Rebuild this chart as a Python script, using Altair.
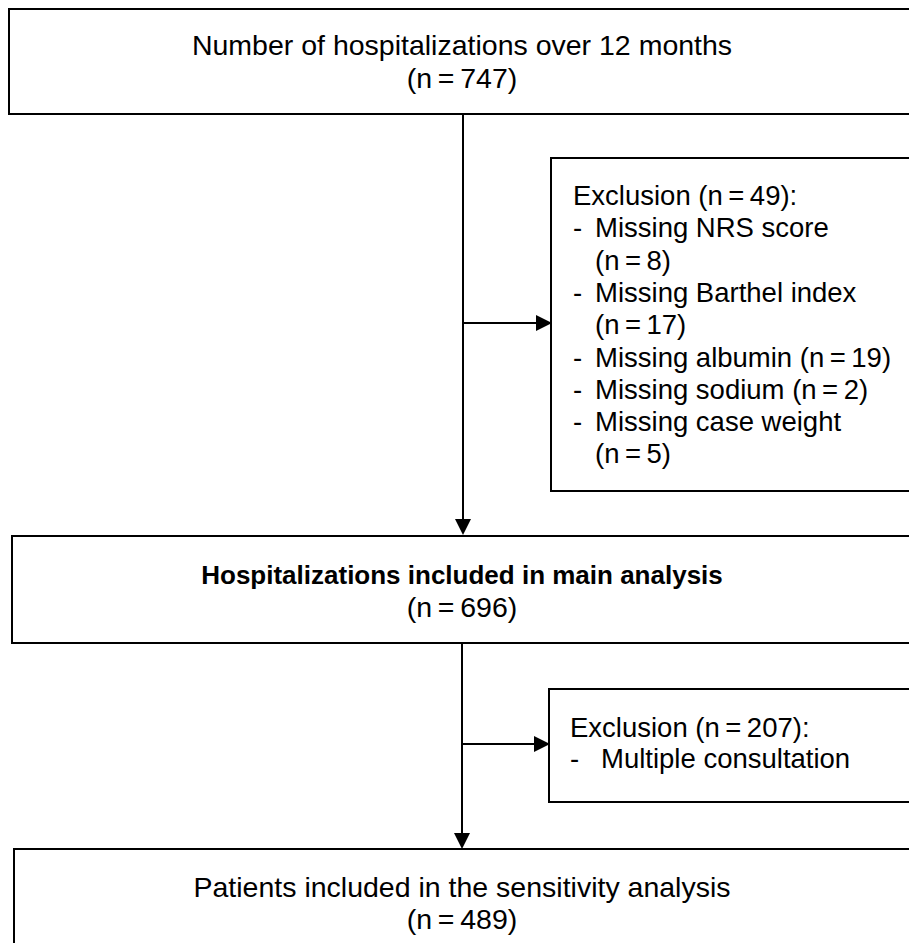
import altair as alt
import pandas as pd

# ---------------- data (content of the flow diagram) ----------------
main_titles = [
    "Number of hospitalizations over 12 months",
    "Hospitalizations included in main analysis",
    "Patients included in the sensitivity analysis",
]
main_counts = [747, 696, 489]
main_bold = [False, True, False]

excl1_total = 49
excl1_reasons = ["Missing NRS score", "Missing Barthel index", "Missing albumin",
                 "Missing sodium", "Missing case weight"]
excl1_counts = [8, 17, 19, 2, 5]
excl1_wrap = [True, True, False, False, True]

excl2_total = 207
excl2_reasons = ["Multiple consultation"]

NS = "\u2009"


def n_label(v):
    return f"(n{NS}={NS}{v})"


# ---------------- layout (page pixel coordinates) ----------------
W, H = 901, 935
XD = [8, 8 + W]
YD = [8, 8 + H]
FONT = "Liberation Sans"

main_boxes = [(9, 9, 990, 114), (12, 536, 990, 643), (14, 849, 990, 1010)]
excl_boxes = [(551, 158, 990, 491), (549, 689, 916, 802)]
main_baselines = [(55, 88), (584, 617), (897, 929)]
main_cx = 462

boxes = pd.DataFrame(
    [dict(x=b[0], y=b[1], x2=b[2], y2=b[3]) for b in main_boxes + excl_boxes]
)

lines = pd.DataFrame([
    dict(x=463, y=114, x2=463, y2=530),
    dict(x=463, y=323, x2=548, y2=323),
    dict(x=462, y=643, x2=462, y2=840),
    dict(x=462, y=744, x2=546, y2=744),
])

arrows_down = pd.DataFrame([dict(x=463, y=535), dict(x=462, y=849)])
arrows_right = pd.DataFrame([dict(x=552, y=323), dict(x=550, y=744)])

# main box texts
mt_rows, mt_bold_rows = [], []
for title, cnt, bold, (b1, b2) in zip(main_titles, main_counts, main_bold, main_baselines):
    (mt_bold_rows if bold else mt_rows).append(dict(x=main_cx, y=b1, t=title))
    mt_rows.append(dict(x=main_cx, y=b2, t=n_label(cnt)))

# exclusion texts
ex_rows = []
y0, dy = 205, 32.3
i = 0
ex_rows.append(dict(x=573, y=y0, t=f"Exclusion {n_label(excl1_total)}:"))
i += 1
for reason, cnt, wrap in zip(excl1_reasons, excl1_counts, excl1_wrap):
    ex_rows.append(dict(x=573, y=y0 + i * dy, t="-"))
    if wrap:
        ex_rows.append(dict(x=595, y=y0 + i * dy, t=reason))
        i += 1
        ex_rows.append(dict(x=595, y=y0 + i * dy, t=n_label(cnt)))
    else:
        ex_rows.append(dict(x=595, y=y0 + i * dy, t=f"{reason} {n_label(cnt)}"))
    i += 1

ex_rows.append(dict(x=570, y=737, t=f"Exclusion {n_label(excl2_total)}:"))
for k, reason in enumerate(excl2_reasons):
    ex_rows.append(dict(x=570, y=768 + k * 31, t="-"))
    ex_rows.append(dict(x=601, y=768 + k * 31, t=reason))

xs = alt.Scale(domain=XD, range=[0, W])
ys = alt.Scale(domain=YD, range=[0, H])
X = lambda f="x": alt.X(f"{f}:Q", scale=xs, axis=None)
Y = lambda f="y": alt.Y(f"{f}:Q", scale=ys, axis=None)

rects = alt.Chart(boxes).mark_rect(
    fill="white", fillOpacity=0, stroke="black", strokeWidth=2
).encode(x=X(), x2="x2:Q", y=Y(), y2="y2:Q")

rules = alt.Chart(lines).mark_rule(color="black", strokeWidth=2).encode(
    x=X(), x2="x2:Q", y=Y(), y2="y2:Q"
)

down = alt.Chart(arrows_down).mark_point(
    shape="M-1,-2L1,-2L0,0Z", size=256, filled=True, color="black", opacity=1
).encode(x=X(), y=Y())

right = alt.Chart(arrows_right).mark_point(
    shape="M-2,-1L0,0L-2,1Z", size=256, filled=True, color="black", opacity=1
).encode(x=X(), y=Y())

main_text = alt.Chart(pd.DataFrame(mt_rows)).mark_text(
    font=FONT, fontSize=28.5, align="center", baseline="alphabetic", color="black"
).encode(x=X(), y=Y(), text="t:N")

main_text_bold = alt.Chart(pd.DataFrame(mt_bold_rows)).mark_text(
    font=FONT, fontSize=26, fontWeight="bold", align="center",
    baseline="alphabetic", color="black"
).encode(x=X(), y=Y(), text="t:N")

ex_text = alt.Chart(pd.DataFrame(ex_rows)).mark_text(
    font=FONT, fontSize=27.5, align="left", baseline="alphabetic", color="black"
).encode(x=X(), y=Y(), text="t:N")

chart = alt.layer(
    rects, rules, down, right, main_text, main_text_bold, ex_text
).properties(
    width=W, height=H, padding=0, autosize=alt.AutoSizeParams(type="none"),
    background="white"
).configure_view(stroke=None)

chart.save("out.html", embed_options={"renderer": "svg", "actions": False})
